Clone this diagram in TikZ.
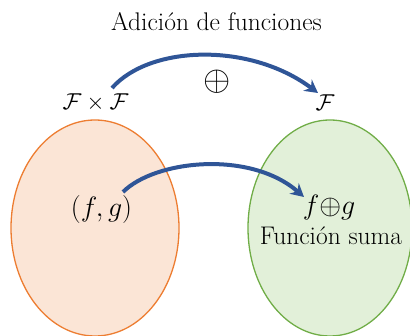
\RequirePackage{fix-cm}
\documentclass[tikz,border=0pt]{standalone}
\usepackage{fontspec}
\usetikzlibrary{shapes.geometric,arrows.meta}
\definecolor{orfill}{HTML}{FBE5D6}
\definecolor{ordraw}{HTML}{ED7D31}
\definecolor{grfill}{HTML}{E2F0D9}
\definecolor{grdraw}{HTML}{70AD47}
\definecolor{arblue}{HTML}{2F5597}
\begin{document}
\begin{tikzpicture}[x=1pt,y=-1pt,
  setL/.style={ellipse,draw=ordraw,fill=orfill,line width=1.3pt,minimum width=168pt,minimum height=216pt,inner sep=0pt},
  setR/.style={ellipse,draw=grdraw,fill=grfill,line width=1.3pt,minimum width=164pt,minimum height=216pt,inner sep=0pt},
  lbl/.style={inner sep=0pt,font=\fontsize{25.5}{30}\selectfont},
  mlbl/.style={inner sep=0pt,font=\fontsize{28}{32}\selectfont},
  maparrow/.style={draw=arblue,line width=4pt,-{Stealth[length=13pt,width=14pt]}}]
\useasboundingbox (0,0) rectangle (410,336);
\node[setL] (L) at (95,228) {};
\node[setR] (R) at (330,228) {};
\node[lbl] (title) at (216.5,22) {Adición de funciones};
\node[inner sep=0pt,font=\fontsize{23}{27}\selectfont] (FF) at (95.5,103) {$\mathcal{F}\times\mathcal{F}$};
\node[inner sep=0pt,font=\fontsize{23}{27}\selectfont] (F) at (325,103) {$\mathcal{F}$};
\node[inner sep=0pt,font=\fontsize{35}{40}\selectfont] (op) at (217,82) {$\oplus$};
\node[mlbl] (fg) at (101.5,210) {$(f,g)$};
\node[mlbl] (fsg) at (329,208) {$f{\oplus}g$};
\node[lbl] (suma) at (331,236) {Función suma};
\coordinate (a1s) at (112,88);
\coordinate (a1e) at (318,93);
\coordinate (a2s) at (123,192);
\coordinate (a2e) at (304,197);
\draw[maparrow] (a1s) .. controls (150,45) and (250,42) .. (a1e);
\draw[maparrow] (a2s) .. controls (155,160) and (250,150) .. (a2e);
\end{tikzpicture}
\end{document}
